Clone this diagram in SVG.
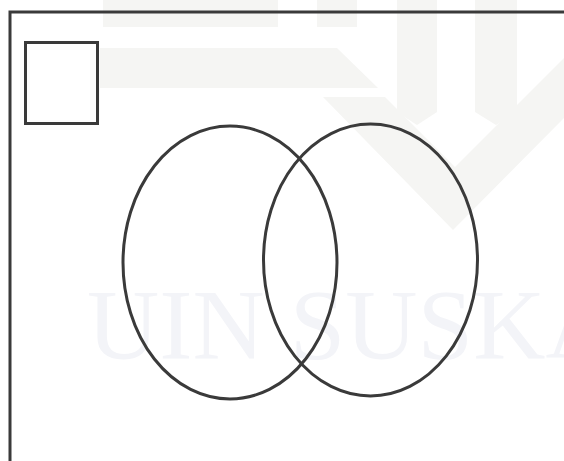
<svg xmlns="http://www.w3.org/2000/svg" width="564" height="461" viewBox="0 0 564 461">
  <style>
    .wm { fill: #f5f5f3; }
    .wmtext { fill: #f3f4f8; font-family: "Liberation Serif", "Times New Roman", serif; font-size: 100px; }
    .line { fill: none; stroke: #3a3a3a; stroke-width: 3; }
  </style>
  <rect x="0" y="0" width="564" height="461" fill="#ffffff"/>
  <g id="watermark">
    <rect class="wm" x="103" y="0" width="175" height="27"/>
    <rect class="wm" x="317" y="0" width="40" height="27"/>
    <polygon class="wm" points="100,48 337,48 378,88 100,88"/>
    <polygon class="wm" points="397,0 437,0 437,112 417,125 397,112"/>
    <polygon class="wm" points="475,0 517,0 517,112 496,125 475,112"/>
    <polygon class="wm" points="323,97 385,97 455,167 564,58 564,118 453,230"/>
    <text class="wmtext" x="87" y="358">UIN SUSKA</text>
  </g>
  <g id="frame">
    <path class="line" d="M10 461 V12 H564"/>
  </g>
  <g id="universe-box">
    <rect class="line" x="25.5" y="42.5" width="72" height="81"/>
  </g>
  <g id="set-a">
    <ellipse class="line" cx="230" cy="262.5" rx="107" ry="136.5"/>
  </g>
  <g id="set-b">
    <ellipse class="line" cx="370.5" cy="260" rx="107" ry="136"/>
  </g>
  <g id="connectors"/>
</svg>
